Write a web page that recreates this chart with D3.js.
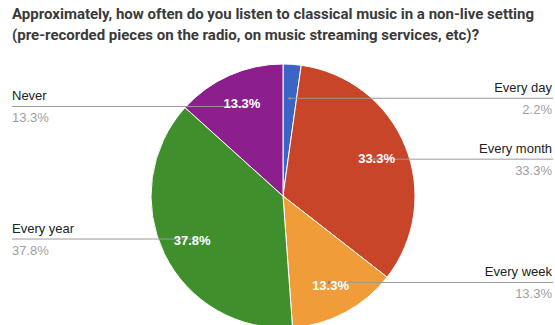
<!DOCTYPE html>
<html>
<head>
<meta charset="utf-8">
<script src="https://cdn.jsdelivr.net/npm/d3@7"></script>
<style>
  html, body { margin: 0; padding: 0; background: #fff; }
  svg { display: block; }
</style>
</head>
<body>
<svg id="chart" width="555" height="325"></svg>
<script>
// Survey answers, in the order the pie draws them (clockwise from 12 o'clock)
const categories = ["Every day", "Every month", "Every week", "Every year", "Never"];
const percents = [2.2, 33.3, 13.3, 37.8, 13.3];
const colors = ["#3b64c7", "#c9452a", "#ef9c39", "#3f902c", "#8c1f8d"];
// Which side of the pie each legend label sits on
const sides = ["right", "right", "right", "left", "left"];
const titleLines = [
  "Approximately, how often do you listen to classical music in a non-live setting",
  "(pre-recorded pieces on the radio, on music streaming services, etc)?"
];

const W = 555, H = 325;
const cx = 283, cy = 196, R = 132;
const svg = d3.select("#chart");

// Title
svg.append("g").selectAll("text")
  .data(titleLines)
  .join("text")
  .attr("x", 12)
  .attr("y", (d, i) => 19 + i * 21)
  .attr("font-family", "Roboto, Arial, sans-serif")
  .attr("font-weight", 700)
  .attr("font-size", 15)
  .attr("fill", "#3a3a3a")
  .text(d => d);

const data = categories.map((c, i) => ({ name: c, value: percents[i], color: colors[i], side: sides[i] }));

const pie = d3.pie().value(d => d.value).sort(null);
const arcs = pie(data);
const arc = d3.arc().innerRadius(0).outerRadius(R);
const inner = d3.arc().innerRadius(98).outerRadius(98);

const g = svg.append("g").attr("transform", `translate(${cx},${cy})`);

g.selectAll("path.slice")
  .data(arcs)
  .join("path")
  .attr("class", "slice")
  .attr("d", arc)
  .attr("fill", d => d.data.color)
  .attr("stroke", "#fff")
  .attr("stroke-width", 1);

// Leader lines from each slice out to its label
const leaderG = svg.append("g");
arcs.forEach(a => {
  const [px, py] = inner.centroid(a);
  const x0 = cx + px, y0 = cy + py;
  const xEnd = a.data.side === "right" ? 553 : 12;
  leaderG.append("line")
    .attr("x1", x0).attr("y1", y0)
    .attr("x2", xEnd).attr("y2", y0)
    .attr("stroke", "#9a9a9a")
    .attr("stroke-width", 1);
  leaderG.append("circle")
    .attr("cx", x0).attr("cy", y0).attr("r", 1.6)
    .attr("fill", "#8a8a8a");

  const anchor = a.data.side === "right" ? "end" : "start";
  const tx = a.data.side === "right" ? 552 : 12;
  leaderG.append("text")
    .attr("x", tx).attr("y", y0 - 6)
    .attr("text-anchor", anchor)
    .attr("font-family", "Arial, 'Liberation Sans', sans-serif")
    .attr("font-size", 13)
    .attr("fill", "#222")
    .text(a.data.name);
  leaderG.append("text")
    .attr("x", tx).attr("y", y0 + 16)
    .attr("text-anchor", anchor)
    .attr("font-family", "Arial, 'Liberation Sans', sans-serif")
    .attr("font-size", 13)
    .attr("fill", "#a0a0a0")
    .text(d3.format(".1f")(a.data.value) + "%");
});

// Percent labels inside the slices (too small a slice gets none)
const labelG = svg.append("g");
arcs.filter(a => a.data.value >= 5).forEach(a => {
  const [px, py] = d3.arc().innerRadius(101).outerRadius(101).centroid(a);
  labelG.append("text")
    .attr("x", cx + px).attr("y", cy + py)
    .attr("dy", "0.36em")
    .attr("text-anchor", "middle")
    .attr("font-family", "Arial, 'Liberation Sans', sans-serif")
    .attr("font-weight", 700)
    .attr("font-size", 13)
    .attr("fill", "#ffffff")
    .text(d3.format(".1f")(a.data.value) + "%");
});
</script>
</body>
</html>
